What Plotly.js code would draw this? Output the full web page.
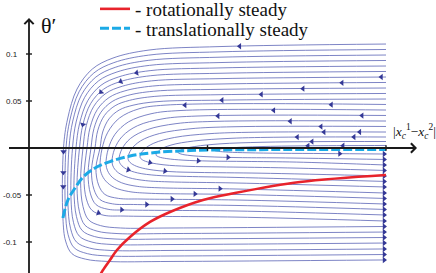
<!DOCTYPE html>
<html><head><meta charset="utf-8">
<script src="https://cdn.plot.ly/plotly-3.0.1.min.js"></script>
<style>html,body{margin:0;padding:0;background:#fff;overflow:hidden}#chart{width:436px;height:273px}</style>
</head><body><div id="chart"></div>
<script>
// ---- values (x: |x_c^1 - x_c^2|, y: theta') ----
const xTickVals = [1, 2];
const yTickVals = [0.1, 0.05, -0.05, -0.1];
const yTickText = ['0.1', '0.05', '-0.05', '-0.1'];

const legendNames = ['- rotationally steady', '- translationally steady'];

const redD = [0.395, 0.4146, 0.4538, 0.4930, 0.5658, 0.6779, 0.7899, 0.9748, 1.1541, 1.5182, 2.0];
const redTheta = [-0.1362, -0.1298, -0.1191, -0.1085, -0.0947, -0.0787, -0.0681, -0.0553, -0.0479, -0.0362, -0.0287];

const cyanD = [0.190, 0.218, 0.258, 0.303, 0.370, 0.454, 0.566, 0.706, 0.902, 1.182, 1.518, 2.0];
const cyanTheta = [-0.0745, -0.0553, -0.0426, -0.0309, -0.0213, -0.0144, -0.0085, -0.0048, -0.0027, -0.0019, -0.0016, -0.0016];

// streamlines (one list per line, outermost first)
const streamD = [
 [2.0,1.07,.6723,.4706,.3546,.2689,.2160,.1933,.190,.2051,.2404,.3161,.4421,.79,2.0],
 [2.0,1.07,.6703,.4754,.3633,.2804,.2292,.2073,.204,.2188,.2533,.3273,.4505,.79,2.0],
 [2.0,1.07,.6712,.4829,.3747,.2947,.2453,.2241,.218,.2325,.2662,.3385,.4589,.79,2.0],
 [2.0,1.07,.6748,.4933,.3889,.3118,.2641,.2437,.235,.2491,.2821,.3527,.4703,.79,2.0],
 [2.0,1.07,.6785,.5037,.4031,.3289,.2830,.2633,.252,.2658,.2979,.3669,.4817,.79,2.0],
 [2.0,1.07,.6821,.5140,.4174,.3459,.3018,.2829,.269,.2824,.3138,.3811,.4931,.79,2.0],
 [2.0,1.07,.6857,.5244,.4316,.3630,.3207,.3025,.289,.3024,.3338,.4011,.5131,.79,2.0],
 [2.0,1.07,.6922,.5375,.4486,.3829,.3423,.3249,.308,.3214,.3528,.4201,.5321,1.154,2.0],
 [2.0,1.07,.6985,.5506,.4656,.4028,.3639,.3473,.331,.3444,.3758,.4431,.5551,1.154,2.0],
 [2.0,1.07,.7050,.5638,.4826,.4226,.3856,.3697,.350,.3641,.3971,.4677,.5853,1.154,2.0],
 [2.0,1.07,.7171,.5827,.5054,.4482,.4129,.3978,.375,.3901,.4254,.5011,.6271,1.154,2.0],
 [2.0,.7619,.6162,.5070,.4415,.4090,.3978,.4056,.4303,.4784,.5591,.6667,1.154,2.0],
 [2.0,.8515,.6835,.5574,.4818,.4440,.4314,.4403,.4661,.5188,.6062,.7227,1.154,2.0],
 [2.0,.9412,.7507,.6078,.5221,.4793,.4650,.4745,.5025,.5591,.6532,.7787,1.154,2.0],
 [2.0,1.0364,.8235,.6639,.5681,.5202,.5042,.5148,.5457,.6084,.7126,.8515,1.154,2.0],
 [2.0,1.1429,.9076,.7311,.6252,.5723,.5546,.5664,.6017,.6723,.7899,.9468,1.3,2.0],
 [2.0,1.2661,1.0084,.8151,.6992,.6412,.6218,.6353,.6756,.7563,.8908,1.0700,1.4,2.0],
 [2.0,1.4118,1.1317,.9216,.7955,.7325,.7115,.7266,.7720,.8627,1.0140,1.2157,1.5,2.0],
 [2.0,1.6190,1.3053,1.0700,.9289,.8583,.8347,.8515,.9020,1.0028,1.1709,1.3950,2.0],
 [2.0,1.8824,1.5462,1.2941,1.1429,1.0672,1.0420,1.0605,1.1160,1.2269,1.4118,1.6583,2.0]
];
const streamTheta = [
 [.1106,.1079,.1042,.0957,.0840,.0627,.0308,0,-.0745,-.0990,-.1124,-.1182,-.1207,-.1207,-.1191],
 [.1048,.1023,.0988,.0908,.0798,.0598,.0298,0,-.0660,-.0920,-.1062,-.1124,-.1149,-.1149,-.1133],
 [.0989,.0966,.0933,.0858,.0755,.0568,.0287,0,-.0585,-.0854,-.1001,-.1064,-.1090,-.1090,-.1074],
 [.0931,.0909,.0879,.0809,.0713,.0539,.0277,0,-.0521,-.0791,-.0938,-.1001,-.1027,-.1027,-.1011],
 [.0872,.0852,.0823,.0757,.0667,.0503,.0258,0,-.0457,-.0729,-.0878,-.0942,-.0968,-.0968,-.0952],
 [.0814,.0795,.0769,.0708,.0625,.0474,.0248,0,-.0415,-.0678,-.0822,-.0884,-.0910,-.0910,-.0894],
 [.0755,.0738,.0714,.0658,.0582,.0444,.0237,0,-.0362,-.0622,-.0764,-.0826,-.0851,-.0851,-.0835],
 [.0697,.0681,.0659,.0608,.0537,.0410,.0218,0,-.0319,-.0542,-.0663,-.0716,-.0724,-.0735,-.0777],
 [.0638,.0624,.0604,.0558,.0494,.0380,.0207,0,-.0277,-.0488,-.0603,-.0652,-.0660,-.0670,-.0713],
 [.0580,.0567,.0549,.0507,.0450,.0346,.0189,0,-.0245,-.0441,-.0548,-.0594,-.0601,-.0611,-.0654],
 [.0521,.0509,.0493,.0455,.0404,.0310,.0170,0,-.0213,-.0395,-.0494,-.0536,-.0543,-.0553,-.0596],
 [.0463,.0456,.0417,.0319,.0168,-.0009,-.0191,-.0273,-.0352,-.0420,-.0463,-.0481,-.0494,-.0537],
 [.0404,.0399,.0364,.0278,.0146,-.0010,-.0170,-.0242,-.0311,-.0370,-.0408,-.0423,-.0436,-.0479],
 [.0346,.0340,.0311,.0237,.0123,-.0011,-.0149,-.0209,-.0266,-.0315,-.0347,-.0360,-.0372,-.0415],
 [.0287,.0283,.0259,.0196,.0101,-.0012,-.0128,-.0177,-.0224,-.0265,-.0291,-.0301,-.0313,-.0356],
 [.0229,.0226,.0205,.0154,.0076,-.0016,-.0112,-.0154,-.0194,-.0228,-.0251,-.0260,-.0268,-.0298],
 [.0170,.0168,.0152,.0112,.0051,-.0021,-.0096,-.0126,-.0154,-.0179,-.0195,-.0201,-.0210,-.0239],
 [.0117,.0115,.0103,.0074,.0031,-.0021,-.0074,-.0094,-.0113,-.0129,-.0139,-.0143,-.0150,-.0181],
 [.0069,.0068,.0061,.0044,.0016,-.0015,-.0048,-.0064,-.0080,-.0093,-.0102,-.0105,-.0122],
 [.0027,.0026,.0023,.0015,.0003,-.0012,-.0027,-.0035,-.0044,-.0051,-.0056,-.0059,-.0064]
];

// direction arrows along the streamlines (angle in degrees, clockwise from "pointing right")
const arrowD = [1.1804,1.9737,1.7535,1.5350,1.3014,1.0812,1.6936,1.3709,1.8655,1.0588,1.4639,1.6359,1.6527,1.8527,1.5031,1.5854,1.8207,1.5630,1.7591,.8739,
  .6034,.5140,.4034,.3018,
  .1932,.1922,.1918,
  1.1148,1.7406,.6779,.9485,.5563,.7619,1.07,.9300,.8011,.6594,.5193,.3888];
const arrowTheta = [.1082,.0755,.0693,.0631,.0570,.0509,.0461,.0401,.0345,.0341,.0285,.0228,.0169,.0170,.0116,.0068,.0117,.0023,.0025,.0456,
  .0800,.0708,.0595,.0248,
  -.0039,-.0261,-.0412,
  -.0099,-.0060,-.0155,-.0135,-.0231,-.0246,-.0433,-.0488,-.0543,-.0601,-.0657,-.0691];
const arrowAngle = [180,180,180,180,180,180,180,180,180,180,180,180,180,180,180,180,180,180,180,180,
  169,158,132,104,
  90,90,90,
  2,0,13,4,15,8,1,1,0,0,3,18];
const endArrowD = 1.99;

// ---- drawing ----
const serif = '"Liberation Serif", "Times New Roman", serif';
const sans = '"Liberation Sans", Arial, sans-serif';
const lineColor = 'rgb(92,100,182)';
const arrowColor = 'rgb(52,56,150)';
const traces = [];
streamD.forEach((xs, i) => {
  traces.push({type:'scatter', mode:'lines', x: xs, y: streamTheta[i], showlegend:false, hoverinfo:'skip',
    line:{color: lineColor, width: 0.8, shape:'spline', smoothing: 1}});
});
traces.push({type:'scatter', mode:'markers', x: arrowD, y: arrowTheta, showlegend:false, hoverinfo:'skip',
  marker:{symbol:'triangle-right', size:5.5, color: arrowColor, angle: arrowAngle, line:{width:0}}});
const endTheta = streamTheta.map(t => t[t.length - 1]);
traces.push({type:'scatter', mode:'markers', x: endTheta.map(() => endArrowD), y: endTheta, showlegend:false, hoverinfo:'skip',
  marker:{symbol:'triangle-right', size:5.5, color: arrowColor, line:{width:0}}});
traces.push({type:'scatter', mode:'lines', x: redD, y: redTheta, name: legendNames[0], legend:'legend',
  line:{color:'#e8232b', width:2.6, shape:'spline'}});
traces.push({type:'scatter', mode:'lines', x: cyanD, y: cyanTheta, name: legendNames[1], legend:'legend2',
  line:{color:'#1caae6', width:3, shape:'spline', dash:'9px,3px'}});

const pxToD = p => (p - 29) / 178.5;
const pyToT = p => (148 - p) / 940;

const annotations = [
  {x: 2.1737, y: 0, ax: pxToD(7.5), ay: 0, xref:'x', yref:'y', axref:'x', ayref:'y', text:'', showarrow:true,
   arrowhead:4, arrowsize:1, arrowwidth:1.8, arrowcolor:'#1a1a1a'},
  {x: 0, y: pyToT(18), ax: 0, ay: pyToT(280), xref:'x', yref:'y', axref:'x', ayref:'y', text:'', showarrow:true,
   arrowhead:4, arrowsize:1, arrowwidth:1.8, arrowcolor:'#1a1a1a'},
  {x: pxToD(39), y: pyToT(25), xref:'x', yref:'y', xanchor:'left', yanchor:'middle', showarrow:false,
   text:'θ′', font:{family: serif, size:22, color:'#111'}},
  {x: pxToD(391), y: pyToT(131.5), xref:'x', yref:'y', xanchor:'left', yanchor:'middle', showarrow:false,
   text:'|<i>x</i><sub><i>c</i></sub><sup>1</sup>−<i>x</i><sub><i>c</i></sub><sup>2</sup>|', font:{family: serif, size:13.5, color:'#111'}}
];
yTickVals.forEach((v, i) => {
  annotations.push({x: pxToD(v > 0 ? 3.5 : 1), y: v, xref:'x', yref:'y', xanchor:'left', yanchor:'middle', showarrow:false,
    text: yTickText[i], font:{family: sans, size:8, color:'#222'}});
});

const shapes = [];
yTickVals.forEach(v => shapes.push({type:'line', xref:'x', yref:'y', x0:-0.0168, x1:0.0168, y0:v, y1:v, line:{color:'#1a1a1a', width:1.4}}));
xTickVals.forEach(v => shapes.push({type:'line', xref:'x', yref:'y', x0:v, x1:v, y0:-0.003, y1:0.003, line:{color:'#1a1a1a', width:1.4}}));

const legendBase = {xanchor:'left', yanchor:'middle', bgcolor:'rgba(0,0,0,0)', borderwidth:0,
  font:{family: serif, size:19, color:'#111'}};

const layout = {
  width:436, height:273, margin:{l:0, r:0, t:0, b:0, pad:0, autoexpand:false}, paper_bgcolor:'#fff', plot_bgcolor:'#fff',
  xaxis:{range:[pxToD(0), pxToD(436)], visible:false, fixedrange:true},
  yaxis:{range:[pyToT(273), pyToT(0)], visible:false, fixedrange:true},
  showlegend:true,
  legend: Object.assign({x: 95/436, y: 1 - 9/273}, legendBase),
  legend2: Object.assign({x: 95/436, y: 1 - 28.5/273}, legendBase),
  annotations, shapes
};
Plotly.newPlot('chart', traces, layout, {displayModeBar:false, staticPlot:true});
</script></body></html>
